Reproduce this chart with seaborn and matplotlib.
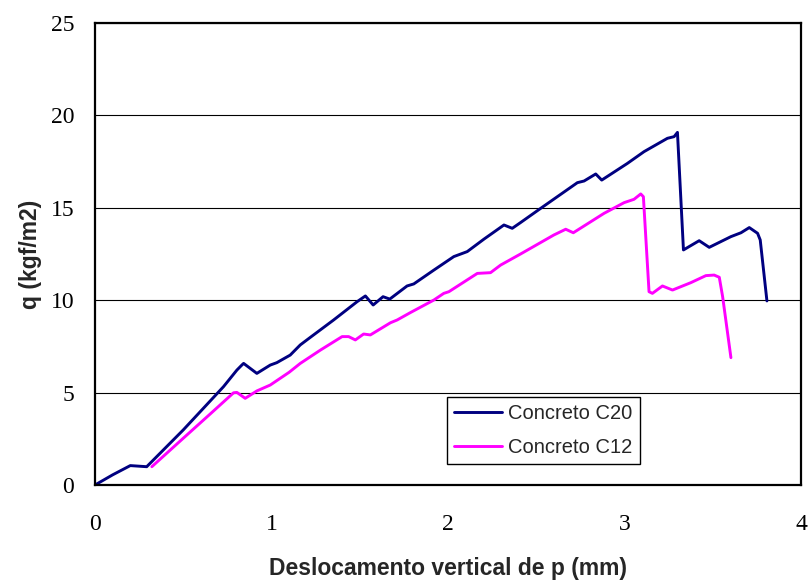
import matplotlib
matplotlib.use("Agg")
import matplotlib.pyplot as plt
import numpy as np
import pandas as pd
import seaborn as sns

# Concreto C20: deslocamento (mm) x carga q (kgf/m2)
c20_x = [0.0, 0.1, 0.2, 0.293, 0.5, 0.728, 0.804, 0.833, 0.842, 0.917, 0.993,
         1.03, 1.106, 1.163, 1.22, 1.352, 1.485, 1.532, 1.576, 1.632, 1.67,
         1.768, 1.806, 1.92, 2.033, 2.109, 2.203, 2.317, 2.364, 2.411, 2.525,
         2.733, 2.771, 2.837, 2.871, 3.016, 3.111, 3.243, 3.281, 3.30, 3.334,
         3.423, 3.48, 3.603, 3.66, 3.707, 3.754, 3.769, 3.807]
c20_q = [0.0, 0.55, 1.05, 0.99, 2.98, 5.32, 6.22, 6.5, 6.58, 6.04, 6.49,
         6.62, 7.03, 7.58, 7.99, 8.93, 9.92, 10.23, 9.74, 10.19, 10.06,
         10.77, 10.88, 11.63, 12.36, 12.63, 13.3, 14.07, 13.89, 14.2, 14.97,
         16.36, 16.45, 16.83, 16.5, 17.4, 18.04, 18.76, 18.85, 19.08, 12.72,
         13.22, 12.86, 13.44, 13.65, 13.93, 13.62, 13.26, 9.96]

# Concreto C12
c12_x = [0.322, 0.5, 0.65, 0.785, 0.804, 0.851, 0.917, 0.993, 1.1, 1.163,
         1.22, 1.277, 1.4, 1.437, 1.475, 1.522, 1.56, 1.674, 1.712, 1.787,
         1.92, 1.976, 2.005, 2.166, 2.241, 2.298, 2.411, 2.6, 2.667, 2.71,
         2.884, 2.998, 3.054, 3.092, 3.107, 3.139, 3.158, 3.215, 3.272, 3.376,
         3.461, 3.508, 3.537, 3.556, 3.603]
c12_q = [0.99, 2.53, 3.82, 4.99, 5.01, 4.69, 5.09, 5.41, 6.1, 6.58,
         6.94, 7.3, 8.03, 8.03, 7.85, 8.17, 8.12, 8.78, 8.93, 9.33,
         10.01, 10.37, 10.46, 11.45, 11.49, 11.9, 12.5, 13.53, 13.84, 13.65,
         14.7, 15.28, 15.46, 15.75, 15.6, 10.46, 10.37, 10.77, 10.55, 10.95,
         11.33, 11.36, 11.24, 10.19, 6.89]

series_names = ["Concreto C20", "Concreto C12"]
series_colors = ["#000080", "#FF00FF"]
x_ticks = [0, 1, 2, 3, 4]
y_ticks = [0, 5, 10, 15, 20, 25]

df = pd.concat([
    pd.DataFrame({"x": c20_x, "q": c20_q, "serie": series_names[0]}),
    pd.DataFrame({"x": c12_x, "q": c12_q, "serie": series_names[1]}),
], ignore_index=True)

sns.set_style("white")
plt.rcParams["font.family"] = ["Liberation Serif", "DejaVu Serif"]

fig = plt.figure(figsize=(8.08, 5.84), dpi=100)
ax = fig.add_axes([95 / 808, 99 / 584, (801 - 95) / 808, (485 - 23) / 584])

sns.lineplot(data=df, x="x", y="q", hue="serie", palette=dict(zip(series_names, series_colors)),
             sort=False, estimator=None, units="serie", linewidth=2.1, ax=ax, legend=False)

ax.set_xlim(0, 4)
ax.set_ylim(0, 25)
ax.set_xticks(x_ticks)
ax.set_yticks(y_ticks)
ax.set_xticklabels([str(t) for t in x_ticks])
ax.set_yticklabels([str(t) for t in y_ticks])
ax.yaxis.grid(True, color="black", linewidth=0.8)
ax.xaxis.grid(False)
ax.set_axisbelow(True)

for side in ["left", "bottom", "top", "right"]:
    ax.spines[side].set_visible(True)
    ax.spines[side].set_color("black")
    ax.spines[side].set_linewidth(1.6)

ax.tick_params(axis="both", direction="out", length=6, width=1, color="black",
               labelsize=17, labelcolor="black")
ax.tick_params(axis="x", pad=15)
ax.tick_params(axis="y", pad=9)

label_font = dict(family=["Liberation Sans", "DejaVu Sans"], weight="bold", size=16.5)
ax.set_xlabel("Deslocamento vertical de p (mm)", labelpad=16, **label_font)
ax.set_ylabel("q (kgf/m2)", labelpad=6, **label_font)

handles = [plt.Line2D([], [], color=c, linewidth=2.1) for c in series_colors]
leg = ax.legend(handles, series_names, loc="upper left",
                bbox_to_anchor=(447 / 808, 1 - 397 / 584), bbox_transform=fig.transFigure,
                prop=dict(family=["Liberation Sans", "DejaVu Sans"], size=14.5),
                frameon=True, fancybox=False, shadow=False, framealpha=1,
                edgecolor="black", borderpad=0.35, labelspacing=0.75,
                handlelength=2.4, handletextpad=0.3, borderaxespad=0)
leg.get_frame().set_linewidth(1.0)

fig.savefig("out.png", dpi=100)
